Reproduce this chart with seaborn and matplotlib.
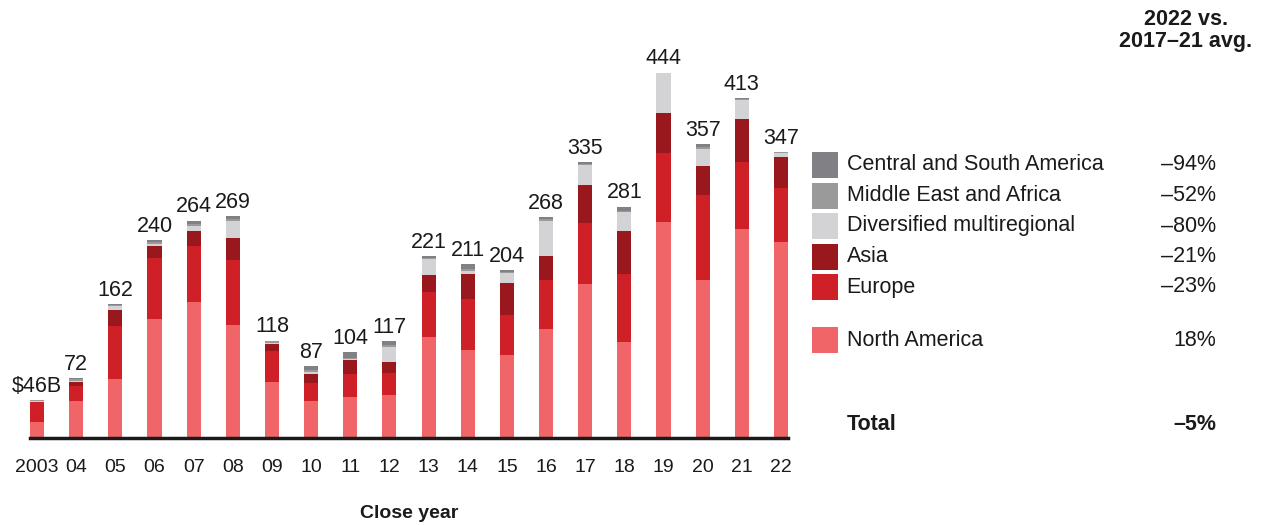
import numpy as np
import pandas as pd
import seaborn as sns
import matplotlib.pyplot as plt
from matplotlib.patches import Rectangle

years = list(range(2003, 2023))
tick_labels = ["2003", "04", "05", "06", "07", "08", "09", "10", "11", "12",
               "13", "14", "15", "16", "17", "18", "19", "20", "21", "22"]

# $B per region
north_america = [19, 45, 71, 144, 165, 137, 68, 45, 49, 52,
                 122, 107, 100, 132, 187, 116, 262, 192, 254, 238]
europe = [24, 18, 65, 74, 68, 79, 38, 22, 28, 27,
          55, 62, 49, 60, 74, 83, 84, 103, 81, 66]
asia = [1, 5, 19, 15, 18, 27, 8, 11, 18, 13,
        21, 30, 39, 29, 46, 52, 49, 35, 52, 37]
diversified = [0.5, 1.5, 5, 2, 6, 20, 1.5, 1.5, 0.5, 18,
               19, 4, 12, 43, 24, 23, 48, 21, 23, 5]
mid_east_africa = [1, 1.5, 1.5, 3, 3, 3, 1.5, 2.5, 2, 3,
                   2, 2, 2, 2, 1.5, 2, 0.5, 3, 1.5, 0.8]
central_south_am = [0.5, 1, 0.5, 2, 4, 3, 1, 5, 6.5, 4,
                    2, 6, 2, 2, 2.5, 5, 0.5, 3, 1.5, 0.2]
totals = [46, 72, 162, 240, 264, 269, 118, 87, 104, 117,
          221, 211, 204, 268, 335, 281, 444, 357, 413, 347]

regions = ["Central and South America", "Middle East and Africa",
           "Diversified multiregional", "Asia", "Europe", "North America"]
changes = ["–94%", "–52%", "–80%", "–21%", "–23%", "18%"]
colors = ["#808085", "#9a9a9a", "#d3d3d5", "#98181e", "#cf1f27", "#f06568"]

series = [central_south_am, mid_east_africa, diversified, asia, europe, north_america]
df = pd.concat(
    [pd.DataFrame({"year": years, "region": r, "value": v}) for r, v in zip(regions, series)],
    ignore_index=True,
)

sns.set_theme(style="white")
plt.rcParams["font.family"] = ["Liberation Sans", "DejaVu Sans"]

fig = plt.figure(figsize=(12.62, 5.25), dpi=100)
ax = fig.add_axes([30 / 1262, 87.3 / 525, 758 / 1262, 460 * 0.8225 / 525])

sns.histplot(
    data=df, x="year", weights="value", hue="region", hue_order=regions,
    palette=colors, multiple="stack", discrete=True, shrink=0.36,
    alpha=1, linewidth=0, legend=False, ax=ax,
)

for yr, tot in zip(years, totals):
    lab = f"${tot}B" if yr == 2003 else str(tot)
    ax.annotate(lab, (yr, tot), xytext=(0, 6), textcoords="offset points",
                ha="center", va="baseline", fontsize=15.5, color="#1a1a1a")

ax.set_xlim(2002.82, 2022.18)
ax.set_ylim(0, 460)
ax.set_xticks(years)
ax.set_xticklabels(tick_labels, fontsize=14, color="#1a1a1a")
ax.set_yticks([])
ax.set_ylabel("")
ax.set_xlabel("Close year", fontsize=14, fontweight="bold", labelpad=21, color="#1a1a1a")
ax.tick_params(axis="x", length=0, pad=15)
for s in ["left", "right", "top"]:
    ax.spines[s].set_visible(False)
ax.spines["bottom"].set_linewidth(2.5)
ax.spines["bottom"].set_color("#1a1a1a")

# side legend with change column
fig.text(1186 / 1262, 1 - 9 / 525, "2022 vs.\n2017–21 avg.", ha="center", va="top",
         fontsize=15.5, fontweight="bold", color="#1a1a1a", linespacing=1.05)
row_y = [165, 195.5, 226, 256.5, 287, 340]
for r, c, ch, y in zip(regions, colors, changes, row_y):
    fig.patches.append(Rectangle((812 / 1262, 1 - (y + 13) / 525), 26 / 1262, 26 / 525,
                                 transform=fig.transFigure, facecolor=c, edgecolor="none"))
    fig.text(846.7 / 1262, 1 - y / 525, r, ha="left", va="center", fontsize=15.5, color="#1a1a1a")
    fig.text(1216 / 1262, 1 - y / 525, ch, ha="right", va="center", fontsize=15.5, color="#1a1a1a")
fig.text(846.7 / 1262, 1 - 424 / 525, "Total", ha="left", va="center", fontsize=15.5,
         fontweight="bold", color="#1a1a1a")
fig.text(1216 / 1262, 1 - 424 / 525, "–5%", ha="right", va="center", fontsize=15.5,
         fontweight="bold", color="#1a1a1a")

fig.savefig("out.png", dpi=100)
